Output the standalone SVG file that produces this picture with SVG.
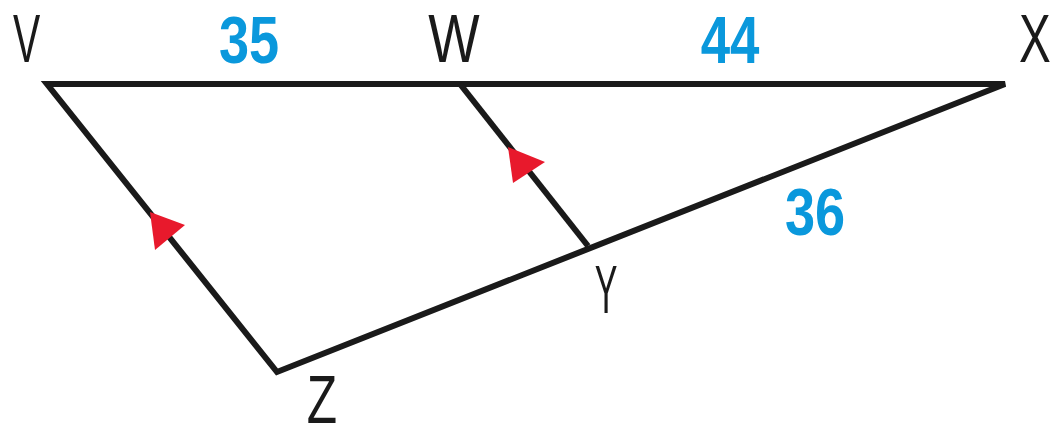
<svg xmlns="http://www.w3.org/2000/svg" width="1053" height="427" viewBox="0 0 1053 427">
<style>
.edge{fill:none;stroke:#1a1a1a;stroke-width:6;stroke-linejoin:miter}
.lbl{font-family:"Liberation Sans",Arial,sans-serif;font-size:68px;fill:#1a1a1a;text-anchor:middle}
.num{font-family:"Liberation Sans",Arial,sans-serif;font-size:66px;font-weight:bold;fill:#0a98dc;text-anchor:middle}
.tick{fill:#e8192c}
</style>
<rect width="1053" height="427" fill="#fff"/>
<g id="connectors">
<path class="edge" d="M47,84 L1005,84 L277,372 Z"/>
<line class="edge" x1="460" y1="84" x2="588" y2="246"/>
<polygon class="tick" points="150,212 185,225 155,250"/>
<polygon class="tick" points="508,147 545,162 513,183"/>
</g>
<g id="node-V"><text class="lbl" transform="translate(26.5,62) scale(0.6,1)">V</text></g>
<g id="node-W"><text class="lbl" transform="translate(454,62) scale(0.8,1)">W</text></g>
<g id="node-X"><text class="lbl" transform="translate(1035,62) scale(0.7,1)">X</text></g>
<g id="node-Y"><text class="lbl" transform="translate(606,313) scale(0.5,1)">Y</text></g>
<g id="node-Z"><text class="lbl" transform="translate(322,423) scale(0.73,1)">Z</text></g>
<g id="labels">
<text class="num" transform="translate(249,63) scale(0.82,1)">35</text>
<text class="num" transform="translate(730,63) scale(0.8,1)">44</text>
<text class="num" transform="translate(815,235) scale(0.82,1)">36</text>
</g>
</svg>
